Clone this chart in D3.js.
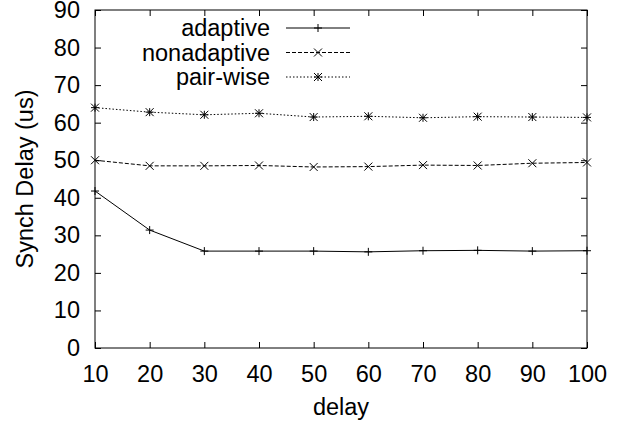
<!DOCTYPE html>
<html>
<head>
<script src="https://d3js.org/d3.v7.min.js"></script>
<style>
  body { margin: 0; background: #fff; }
  text { font-family: "Liberation Sans", Arial, sans-serif; fill: #000; }
</style>
</head>
<body>
<svg id="chart" width="617" height="425"></svg>
<script>
  const delays = [10, 20, 30, 40, 50, 60, 70, 80, 90, 100];
  const adaptive = [41.8, 31.4, 25.8, 25.8, 25.8, 25.6, 25.9, 26.0, 25.8, 25.9];
  const nonadaptive = [50.0, 48.5, 48.5, 48.6, 48.2, 48.3, 48.7, 48.6, 49.2, 49.4];
  const pairwise = [64.0, 62.8, 62.1, 62.5, 61.5, 61.7, 61.3, 61.6, 61.5, 61.4];
  const yTicks = [0, 10, 20, 30, 40, 50, 60, 70, 80, 90];

  const series = [
    { name: "adaptive", values: adaptive, dash: null, marker: "plus" },
    { name: "nonadaptive", values: nonadaptive, dash: "4,2", marker: "cross" },
    { name: "pair-wise", values: pairwise, dash: "1.5,2", marker: "star" }
  ];

  const svg = d3.select("#chart");
  const margin = { top: 10, right: 30, bottom: 77, left: 95 };
  const width = 617 - margin.left - margin.right;
  const height = 425 - margin.top - margin.bottom;
  const fontSize = 23.5;

  const x = d3.scaleLinear().domain([10, 100]).range([0, width]);
  const y = d3.scaleLinear().domain([0, 90]).range([height, 0]);

  const g = svg.append("g").attr("transform", `translate(${margin.left},${margin.top})`);

  // frame
  g.append("rect")
    .attr("width", width).attr("height", height)
    .attr("fill", "none").attr("stroke", "#000").attr("stroke-width", 1);

  // axes with inward ticks, mirrored on top/right
  const styleAxis = sel => {
    sel.select(".domain").remove();
    sel.selectAll(".tick line").attr("stroke", "#000");
    sel.selectAll("text").style("font-size", fontSize + "px")
      .style("font-family", "'Liberation Sans', Arial, sans-serif").attr("fill", "#000");
  };

  g.append("g").attr("transform", `translate(0,${height})`)
    .call(d3.axisBottom(x).tickValues(delays).tickSizeInner(-6).tickPadding(17))
    .call(styleAxis);
  g.append("g")
    .call(d3.axisTop(x).tickValues(delays).tickSizeInner(-6).tickFormat(""))
    .call(styleAxis);
  g.append("g")
    .call(d3.axisLeft(y).tickValues(yTicks).tickSizeInner(-6).tickPadding(15))
    .call(styleAxis);
  g.append("g").attr("transform", `translate(${width},0)`)
    .call(d3.axisRight(y).tickValues(yTicks).tickSizeInner(-6).tickFormat(""))
    .call(styleAxis);

  // axis labels
  svg.append("text")
    .attr("transform", `translate(33,${margin.top + height / 2}) rotate(-90)`)
    .attr("text-anchor", "middle")
    .style("font-size", fontSize + "px")
    .text("Synch Delay (us)");
  svg.append("text")
    .attr("x", margin.left + width / 2).attr("y", 415)
    .attr("text-anchor", "middle")
    .style("font-size", fontSize + "px")
    .text("delay");

  function drawMarker(sel, type, cx, cy) {
    const s = 4;
    const p = d3.path();
    if (type === "plus" || type === "star") {
      p.moveTo(cx - s, cy); p.lineTo(cx + s, cy);
      p.moveTo(cx, cy - s); p.lineTo(cx, cy + s);
    }
    if (type === "cross" || type === "star") {
      p.moveTo(cx - s, cy - s); p.lineTo(cx + s, cy + s);
      p.moveTo(cx - s, cy + s); p.lineTo(cx + s, cy - s);
    }
    sel.append("path").attr("d", p.toString())
      .attr("stroke", "#000").attr("stroke-width", 1).attr("fill", "none");
  }

  const line = d3.line().x((d, i) => x(delays[i])).y(d => y(d));

  series.forEach((s, k) => {
    g.append("path")
      .datum(s.values)
      .attr("d", line)
      .attr("fill", "none")
      .attr("stroke", "#000")
      .attr("stroke-width", 1)
      .attr("stroke-dasharray", s.dash);
    s.values.forEach((v, i) => drawMarker(g, s.marker, x(delays[i]), y(v)));

    // legend
    const ly = 28 + k * 24.5;
    svg.append("text")
      .attr("x", 270).attr("y", ly)
      .attr("dy", "0.35em")
      .attr("text-anchor", "end")
      .style("font-size", fontSize + "px")
      .text(s.name);
    svg.append("line")
      .attr("x1", 286).attr("x2", 350).attr("y1", ly).attr("y2", ly)
      .attr("stroke", "#000").attr("stroke-width", 1)
      .attr("stroke-dasharray", s.dash);
    drawMarker(svg, s.marker, 318, ly);
  });
</script>
</body>
</html>
